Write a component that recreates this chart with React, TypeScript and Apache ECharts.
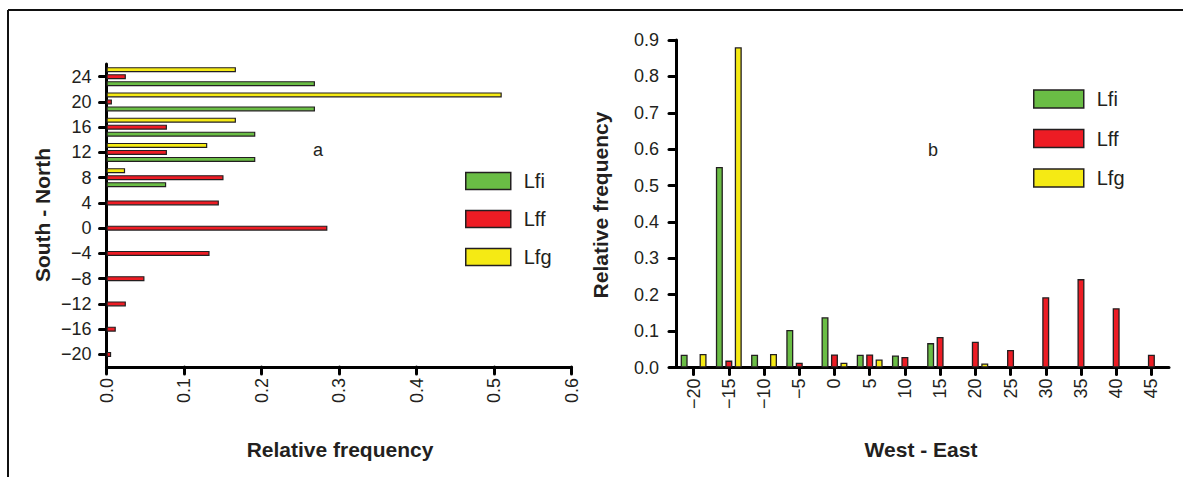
import React, { useEffect, useRef } from "react";
import * as echarts from "echarts";

// Panel a: South - North (horizontal bars)
const snCategories = ["-20", "-16", "-12", "-8", "-4", "0", "4", "8", "12", "16", "20", "24"];
const snLfi = [null, null, null, null, null, null, null, 0.077, 0.192, 0.192, 0.269, 0.269];
const snLff = [0.006, 0.012, 0.025, 0.049, 0.133, 0.285, 0.145, 0.151, 0.078, 0.078, 0.007, 0.025];
const snLfg = [null, null, null, null, null, null, null, 0.024, 0.13, 0.167, 0.51, 0.167];
const snTicks = [0, 0.6, 0.1];

// Panel b: West - East (vertical bars)
const weCategories = ["-20", "-15", "-10", "-5", "0", "5", "10", "15", "20", "25", "30", "35", "40", "45"];
const weLfi = [0.035, 0.551, 0.035, 0.103, 0.138, 0.035, 0.033, 0.067, null, null, null, null, null, null];
const weLff = [null, 0.019, null, 0.013, 0.036, 0.036, 0.029, 0.084, 0.071, 0.048, 0.193, 0.243, 0.163, 0.035];
const weLfg = [0.037, 0.88, 0.037, null, 0.013, 0.022, null, null, 0.011, null, null, null, null, null];
const weTicks = [0, 0.9, 0.1];

const seriesNames = ["Lfi", "Lff", "Lfg"];
const colors = ["#6abd45", "#ed1c24", "#f5ea14"];

const FONT = "'Liberation Sans', Arial, Helvetica, sans-serif";
const BORDER = "#231f20";

export default function App() {
  const ref = useRef<HTMLDivElement>(null);
  useEffect(() => {
    if (!ref.current) return;
    const chart = echarts.init(ref.current, null, { renderer: "svg" });
    const minus = (v: string) => String(v).replace("-", "\u2212");
    const axisLine = { show: true, lineStyle: { color: "#000", width: 3, cap: "round" } };
    const axisTick = (align: boolean) => ({
      show: true,
      alignWithLabel: align,
      length: 7,
      lineStyle: { color: "#000", width: 3, cap: "round" },
    });
    const labelStyle = { color: "#231f20", fontSize: 18, fontFamily: FONT };

    // horizontal bars: first series is drawn on top, so list Lfg, Lff, Lfi
    const leftData = [snLfi, snLff, snLfg];
    const leftSeries = [2, 1, 0].map((i) => ({
      type: "bar",
      name: seriesNames[i],
      xAxisIndex: 0,
      yAxisIndex: 0,
      data: leftData[i],
      barWidth: 5,
      barGap: "40%",
      itemStyle: { color: colors[i], borderColor: BORDER, borderWidth: 1.2 },
    }));
    const rightSeries = [weLfi, weLff, weLfg].map((d, i) => ({
      type: "bar",
      name: seriesNames[i],
      xAxisIndex: 1,
      yAxisIndex: 1,
      data: d,
      barWidth: 7,
      barGap: "35%",
      itemStyle: { color: colors[i], borderColor: BORDER, borderWidth: 1.3 },
    }));

    const legendBase = {
      orient: "vertical",
      icon: "rect",
      padding: 0,
      data: seriesNames,
      itemStyle: { borderColor: BORDER, borderWidth: 1.5 },
      textStyle: { fontSize: 20, fontFamily: FONT, color: "#231f20", padding: [0, 0, 0, 8] },
      selectedMode: false,
    };

    const titleText = (x: number, y: number, text: string, rot: number, bold = true, size = 21) => ({
      type: "text",
      x,
      y,
      rotation: rot,
      style: {
        text,
        fill: "#231f20",
        font: `${bold ? "bold " : ""}${size}px ${FONT}`,
        align: "center",
        verticalAlign: "middle",
      },
    });

    chart.setOption({
      animation: false,
      backgroundColor: "#fff",
      grid: [
        { left: 106.5, top: 64, width: 465, height: 303, containLabel: false },
        { left: 676, top: 40, width: 493, height: 327.5, containLabel: false },
      ],
      xAxis: [
        {
          type: "value",
          gridIndex: 0,
          min: snTicks[0],
          max: snTicks[1],
          interval: snTicks[2],
          splitLine: { show: false },
          axisLine,
          axisTick: axisTick(false),
          axisLabel: { ...labelStyle, rotate: 90, margin: 11, formatter: (v: number) => v.toFixed(1) },
        },
        {
          type: "category",
          gridIndex: 1,
          data: weCategories,
          boundaryGap: true,
          axisLine,
          axisTick: axisTick(true),
          axisLabel: { ...labelStyle, rotate: 90, margin: 11, interval: 0, formatter: minus },
        },
      ],
      yAxis: [
        {
          type: "category",
          gridIndex: 0,
          data: snCategories,
          boundaryGap: true,
          axisLine,
          axisTick: axisTick(true),
          axisLabel: { ...labelStyle, margin: 15, interval: 0, formatter: minus },
        },
        {
          type: "value",
          gridIndex: 1,
          min: weTicks[0],
          max: weTicks[1],
          interval: weTicks[2],
          splitLine: { show: false },
          axisLine,
          axisTick: axisTick(false),
          axisLabel: { ...labelStyle, margin: 17, formatter: (v: number) => v.toFixed(1) },
        },
      ],
      legend: [
        { ...legendBase, left: 465, top: 171, itemWidth: 45, itemHeight: 17, itemGap: 18 },
        { ...legendBase, left: 1033, top: 89, itemWidth: 50, itemHeight: 18, itemGap: 19.5 },
      ],
      series: [...leftSeries, ...rightSeries],
      graphic: [
        { type: "line", shape: { x1: 8, y1: 10, x2: 1183, y2: 10 }, style: { stroke: "#111", lineWidth: 2 } },
        { type: "line", shape: { x1: 8, y1: 10, x2: 8, y2: 477 }, style: { stroke: "#111", lineWidth: 2 } },
        titleText(42, 215, "South - North", Math.PI / 2),
        titleText(340, 449, "Relative frequency", 0),
        titleText(600, 205, "Relative frequency", Math.PI / 2),
        titleText(921, 449, "West - East", 0),
        titleText(318, 150, "a", 0, false, 18),
        titleText(933, 150, "b", 0, false, 18),
      ],
    });
    return () => chart.dispose();
  }, []);
  return (
    <div
      ref={ref}
      style={{ position: "fixed", left: 0, top: 0, width: 1183, height: 477, background: "#fff" }}
    />
  );
}
